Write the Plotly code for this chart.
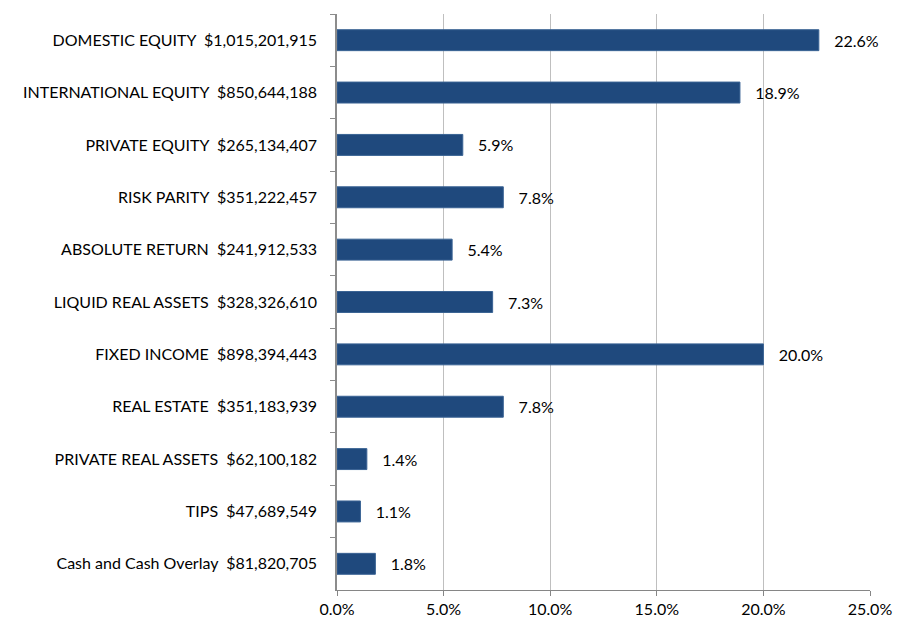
import plotly.graph_objects as go

# asset classes, top to bottom
categories = [
    'DOMESTIC EQUITY', 'INTERNATIONAL EQUITY', 'PRIVATE EQUITY', 'RISK PARITY',
    'ABSOLUTE RETURN', 'LIQUID REAL ASSETS', 'FIXED INCOME', 'REAL ESTATE',
    'PRIVATE REAL ASSETS', 'TIPS', 'Cash and Cash Overlay',
]
amounts = [
    '$1,015,201,915', '$850,644,188', '$265,134,407', '$351,222,457',
    '$241,912,533', '$328,326,610', '$898,394,443', '$351,183,939',
    '$62,100,182', '$47,689,549', '$81,820,705',
]
shares = [0.226, 0.189, 0.059, 0.078, 0.054, 0.073, 0.200, 0.078, 0.014, 0.011, 0.018]

tick_vals = [0, 0.05, 0.10, 0.15, 0.20, 0.25]
tick_text = ['0.0%', '5.0%', '10.0%', '15.0%', '20.0%', '25.0%']

labels = [f'{c}\u00a0\u00a0{a}' for c, a in zip(categories, amounts)]
FONT = 'Lato, Calibri, sans-serif'

fig = go.Figure(go.Bar(
    x=shares,
    y=labels,
    orientation='h',
    width=0.4,
    marker=dict(color='#1F497D', line=dict(color='#3A6394', width=1)),
    text=['\u00a0\u00a0\u00a0' + f'{v * 100:.1f}%' for v in shares],
    textposition='outside',
    cliponaxis=False,
    textfont=dict(size=16, color='#000000', family=FONT),
))

fig.update_layout(
    width=911, height=626,
    margin=dict(l=337, r=41, t=14, b=36),
    paper_bgcolor='white',
    plot_bgcolor='white',
    font=dict(family=FONT, size=16, color='#000000'),
    showlegend=False,
)

fig.update_xaxes(
    range=[0, 0.25],
    tickvals=tick_vals,
    ticktext=tick_text,
    showgrid=True,
    gridcolor='#BFBFBF',
    gridwidth=1,
    zeroline=False,
    showline=True,
    linecolor='#868686',
    linewidth=1,
    ticks='outside',
    ticklen=5,
    tickcolor='#868686',
    automargin=False,
    tickfont=dict(size=16, family=FONT),
)

fig.update_yaxes(
    autorange='reversed',
    showline=True,
    linecolor='#8C8C8C',
    linewidth=1.5,
    ticks='outside',
    tickson='boundaries',
    ticklen=5,
    tickcolor='#8C8C8C',
    showgrid=False,
    automargin=False,
    ticklabelstandoff=15,
    tickfont=dict(size=16, family=FONT),
)

# drop the default page margin so the figure sits at the window's corner
fig.write_html('out.html', config={'displayModeBar': False},
               post_script="document.body.style.margin='0';")
